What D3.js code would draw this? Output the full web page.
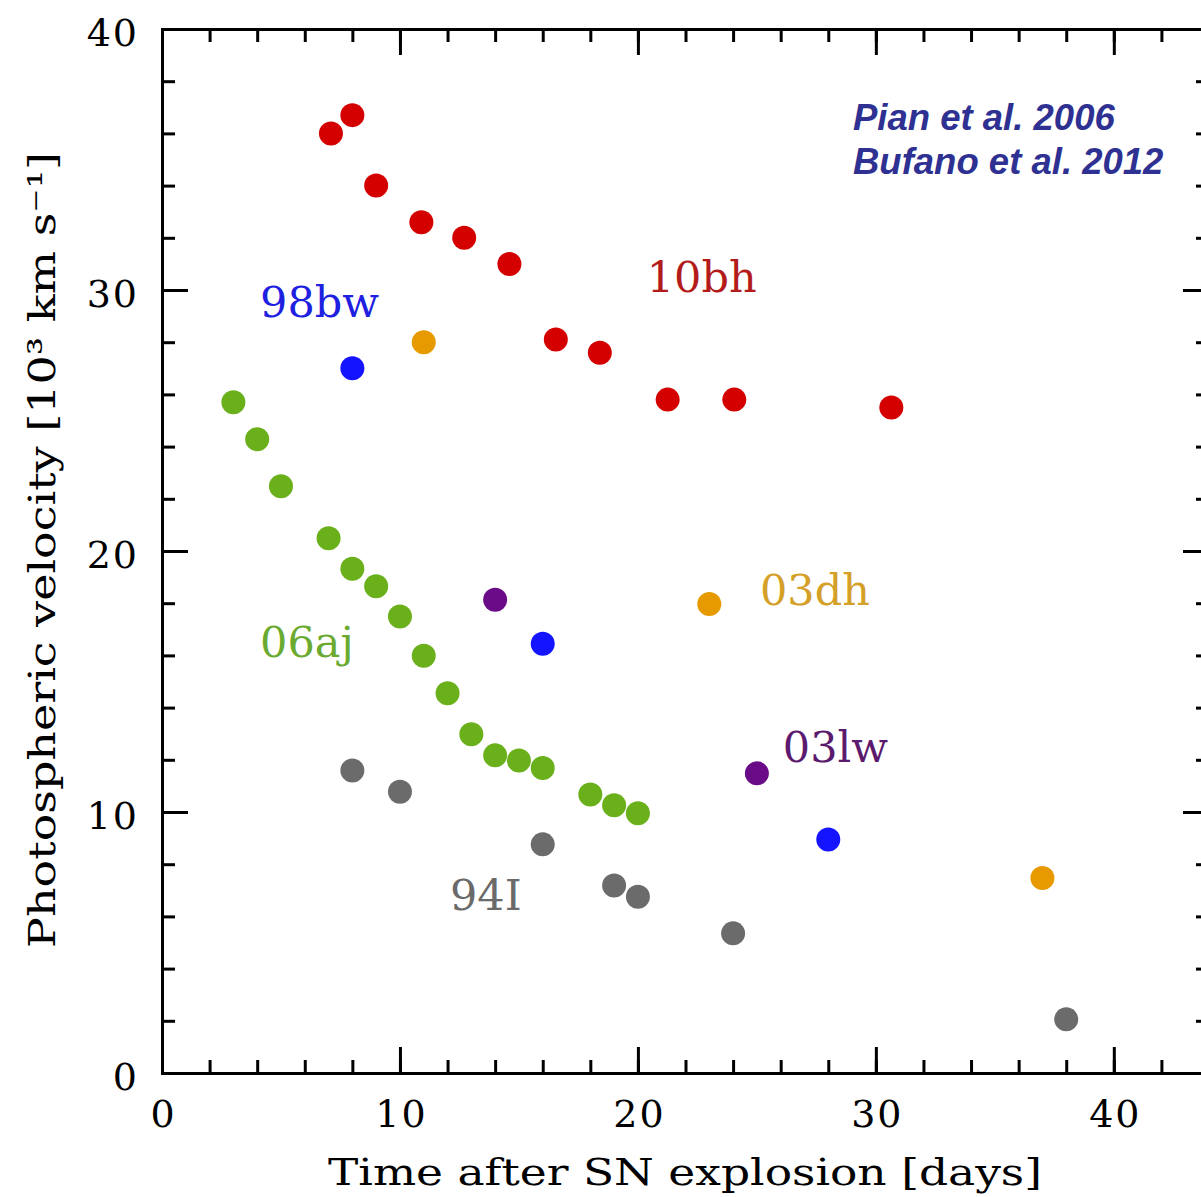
<!DOCTYPE html>
<html lang="en">
<head>
<meta charset="UTF-8">
<title>Photospheric velocity</title>
<script src="https://d3js.org/d3.v7.min.js"></script>
<style>
    body { margin: 0; background: #fff; }
    svg { display: block; }
    .axis path, .axis line { stroke: #000; stroke-width: 3; }
    .axis text { font-family: "DejaVu Serif", serif; font-size: 38px; letter-spacing: 2px; fill: #000; }
    .label { font-family: "DejaVu Serif", serif; font-size: 43px; }
    .title { font-family: "DejaVu Serif", serif; font-size: 38px; fill: #000; }
    .cite { font-family: "Liberation Sans", Arial, sans-serif; font-size: 36.5px; font-weight: bold; font-style: italic; fill: #2e3192; }
</style>
</head>
<body>
<div id="chart"></div>
<script>
// velocities in 10^3 km/s, time in days after explosion
const sn10bhT = [7.1, 8.0, 9.0, 10.9, 12.7, 14.6, 16.55, 18.4, 21.25, 24.05, 30.65];
const sn10bhV = [36.0, 36.7, 34.0, 32.6, 32.0, 31.0, 28.1, 27.6, 25.8, 25.8, 25.5];

const sn98bwT = [8, 16, 28];
const sn98bwV = [27.0, 16.45, 8.95];

const sn03dhT = [11, 23, 37];
const sn03dhV = [28.0, 17.97, 7.47];

const sn03lwT = [14, 25];
const sn03lwV = [18.13, 11.48];

const sn06ajT = [3, 4, 5, 7, 8, 9, 10, 11, 12, 13, 14, 15, 16, 18, 19, 20];
const sn06ajV = [25.7, 24.28, 22.48, 20.49, 19.32, 18.65, 17.49, 15.99, 14.55, 12.98, 12.17, 11.97, 11.69, 10.67, 10.26, 9.95];

const sn94IT = [8, 10, 16, 19, 20, 24, 38];
const sn94IV = [11.59, 10.78, 8.76, 7.18, 6.75, 5.35, 2.06];

const xMajor = [0, 10, 20, 30, 40];
const yMajor = [0, 10, 20, 30, 40];

const series = [
    { name: "94I",  t: sn94IT,  v: sn94IV,  color: "#6b6b6b", text: "#6a6a6a", lx: 12.1,  ly: 6.25 },
    { name: "06aj", t: sn06ajT, v: sn06ajV, color: "#6ab01a", text: "#6aaa30", lx: 4.12,  ly: 15.95 },
    { name: "03lw", t: sn03lwT, v: sn03lwV, color: "#6a0c88", text: "#5c1a6e", lx: 26.09, ly: 11.93 },
    { name: "03dh", t: sn03dhT, v: sn03dhV, color: "#e69a00", text: "#d4a028", lx: 25.13, ly: 17.93 },
    { name: "98bw", t: sn98bwT, v: sn98bwV, color: "#1414ff", text: "#2020e0", lx: 4.12,  ly: 28.98 },
    { name: "10bh", t: sn10bhT, v: sn10bhV, color: "#d40000", text: "#b31b1b", lx: 20.37, ly: 29.93 }
];

const width = 1201, height = 1197;
const margin = { top: 29, left: 162 };
const plotW = 1047, plotH = 1044;   // right edge of frame falls just outside the picture

const svg = d3.select("#chart").append("svg")
    .attr("width", width)
    .attr("height", height);

svg.append("rect").attr("width", width).attr("height", height).attr("fill", "#fff");

const g = svg.append("g").attr("transform", `translate(${margin.left},${margin.top})`);

const x = d3.scaleLinear().domain([0, 44]).range([0, plotW]);
const y = d3.scaleLinear().domain([0, 40]).range([plotH, 0]);

const xMinor = d3.range(0, 44, 2);
const yMinor = d3.range(0, 41, 2);

// minor ticks, all four sides
g.append("g").attr("class", "axis").attr("transform", `translate(0,${plotH})`)
    .call(d3.axisBottom(x).tickValues(xMinor).tickSize(-13).tickFormat(""));
g.append("g").attr("class", "axis")
    .call(d3.axisTop(x).tickValues(xMinor).tickSize(-13).tickFormat(""));
g.append("g").attr("class", "axis")
    .call(d3.axisLeft(y).tickValues(yMinor).tickSize(-13).tickFormat(""));
g.append("g").attr("class", "axis").attr("transform", `translate(${plotW},0)`)
    .call(d3.axisRight(y).tickValues(yMinor).tickSize(-13).tickFormat(""));

// major ticks
const xb = g.append("g").attr("class", "axis").attr("transform", `translate(0,${plotH})`)
    .call(d3.axisBottom(x).tickValues(xMajor).tickSize(-26).tickFormat(d3.format("d")));
xb.selectAll("text").attr("y", 54).attr("dy", 0).attr("dx", 1);

g.append("g").attr("class", "axis")
    .call(d3.axisTop(x).tickValues(xMajor).tickSize(-26).tickFormat(""));

const yl = g.append("g").attr("class", "axis")
    .call(d3.axisLeft(y).tickValues(yMajor).tickSize(-26).tickFormat(d3.format("d")));
yl.selectAll("text").attr("x", -23).attr("dy", 16);

g.append("g").attr("class", "axis").attr("transform", `translate(${plotW},0)`)
    .call(d3.axisRight(y).tickValues(yMajor).tickSize(-26).tickFormat(""));

g.selectAll(".axis path").attr("fill", "none");

// points
series.forEach(s => {
    g.append("g").selectAll("circle")
        .data(s.t.map((t, i) => [t, s.v[i]]))
        .enter().append("circle")
        .attr("cx", d => x(d[0]))
        .attr("cy", d => y(d[1]))
        .attr("r", 12)
        .attr("fill", s.color);
});

// series labels
g.selectAll(".label")
    .data(series)
    .enter().append("text")
    .attr("class", "label")
    .attr("x", d => x(d.lx))
    .attr("y", d => y(d.ly))
    .attr("fill", d => d.text)
    .text(d => d.name);

// axis titles
svg.append("text").attr("class", "title")
    .attr("x", 685).attr("y", 1185)
    .attr("text-anchor", "middle")
    .attr("textLength", 714).attr("lengthAdjust", "spacingAndGlyphs")
    .text("Time after SN explosion [days]");

svg.append("text").attr("class", "title")
    .attr("transform", "translate(55,550) rotate(-90)")
    .attr("text-anchor", "middle")
    .attr("textLength", 796).attr("lengthAdjust", "spacingAndGlyphs")
    .text("Photospheric velocity [10³ km s⁻¹]");

// references
svg.append("text").attr("class", "cite").attr("x", 853).attr("y", 130).text("Pian et al. 2006");
svg.append("text").attr("class", "cite").attr("x", 853).attr("y", 174).text("Bufano et al. 2012");
</script>
</body>
</html>
